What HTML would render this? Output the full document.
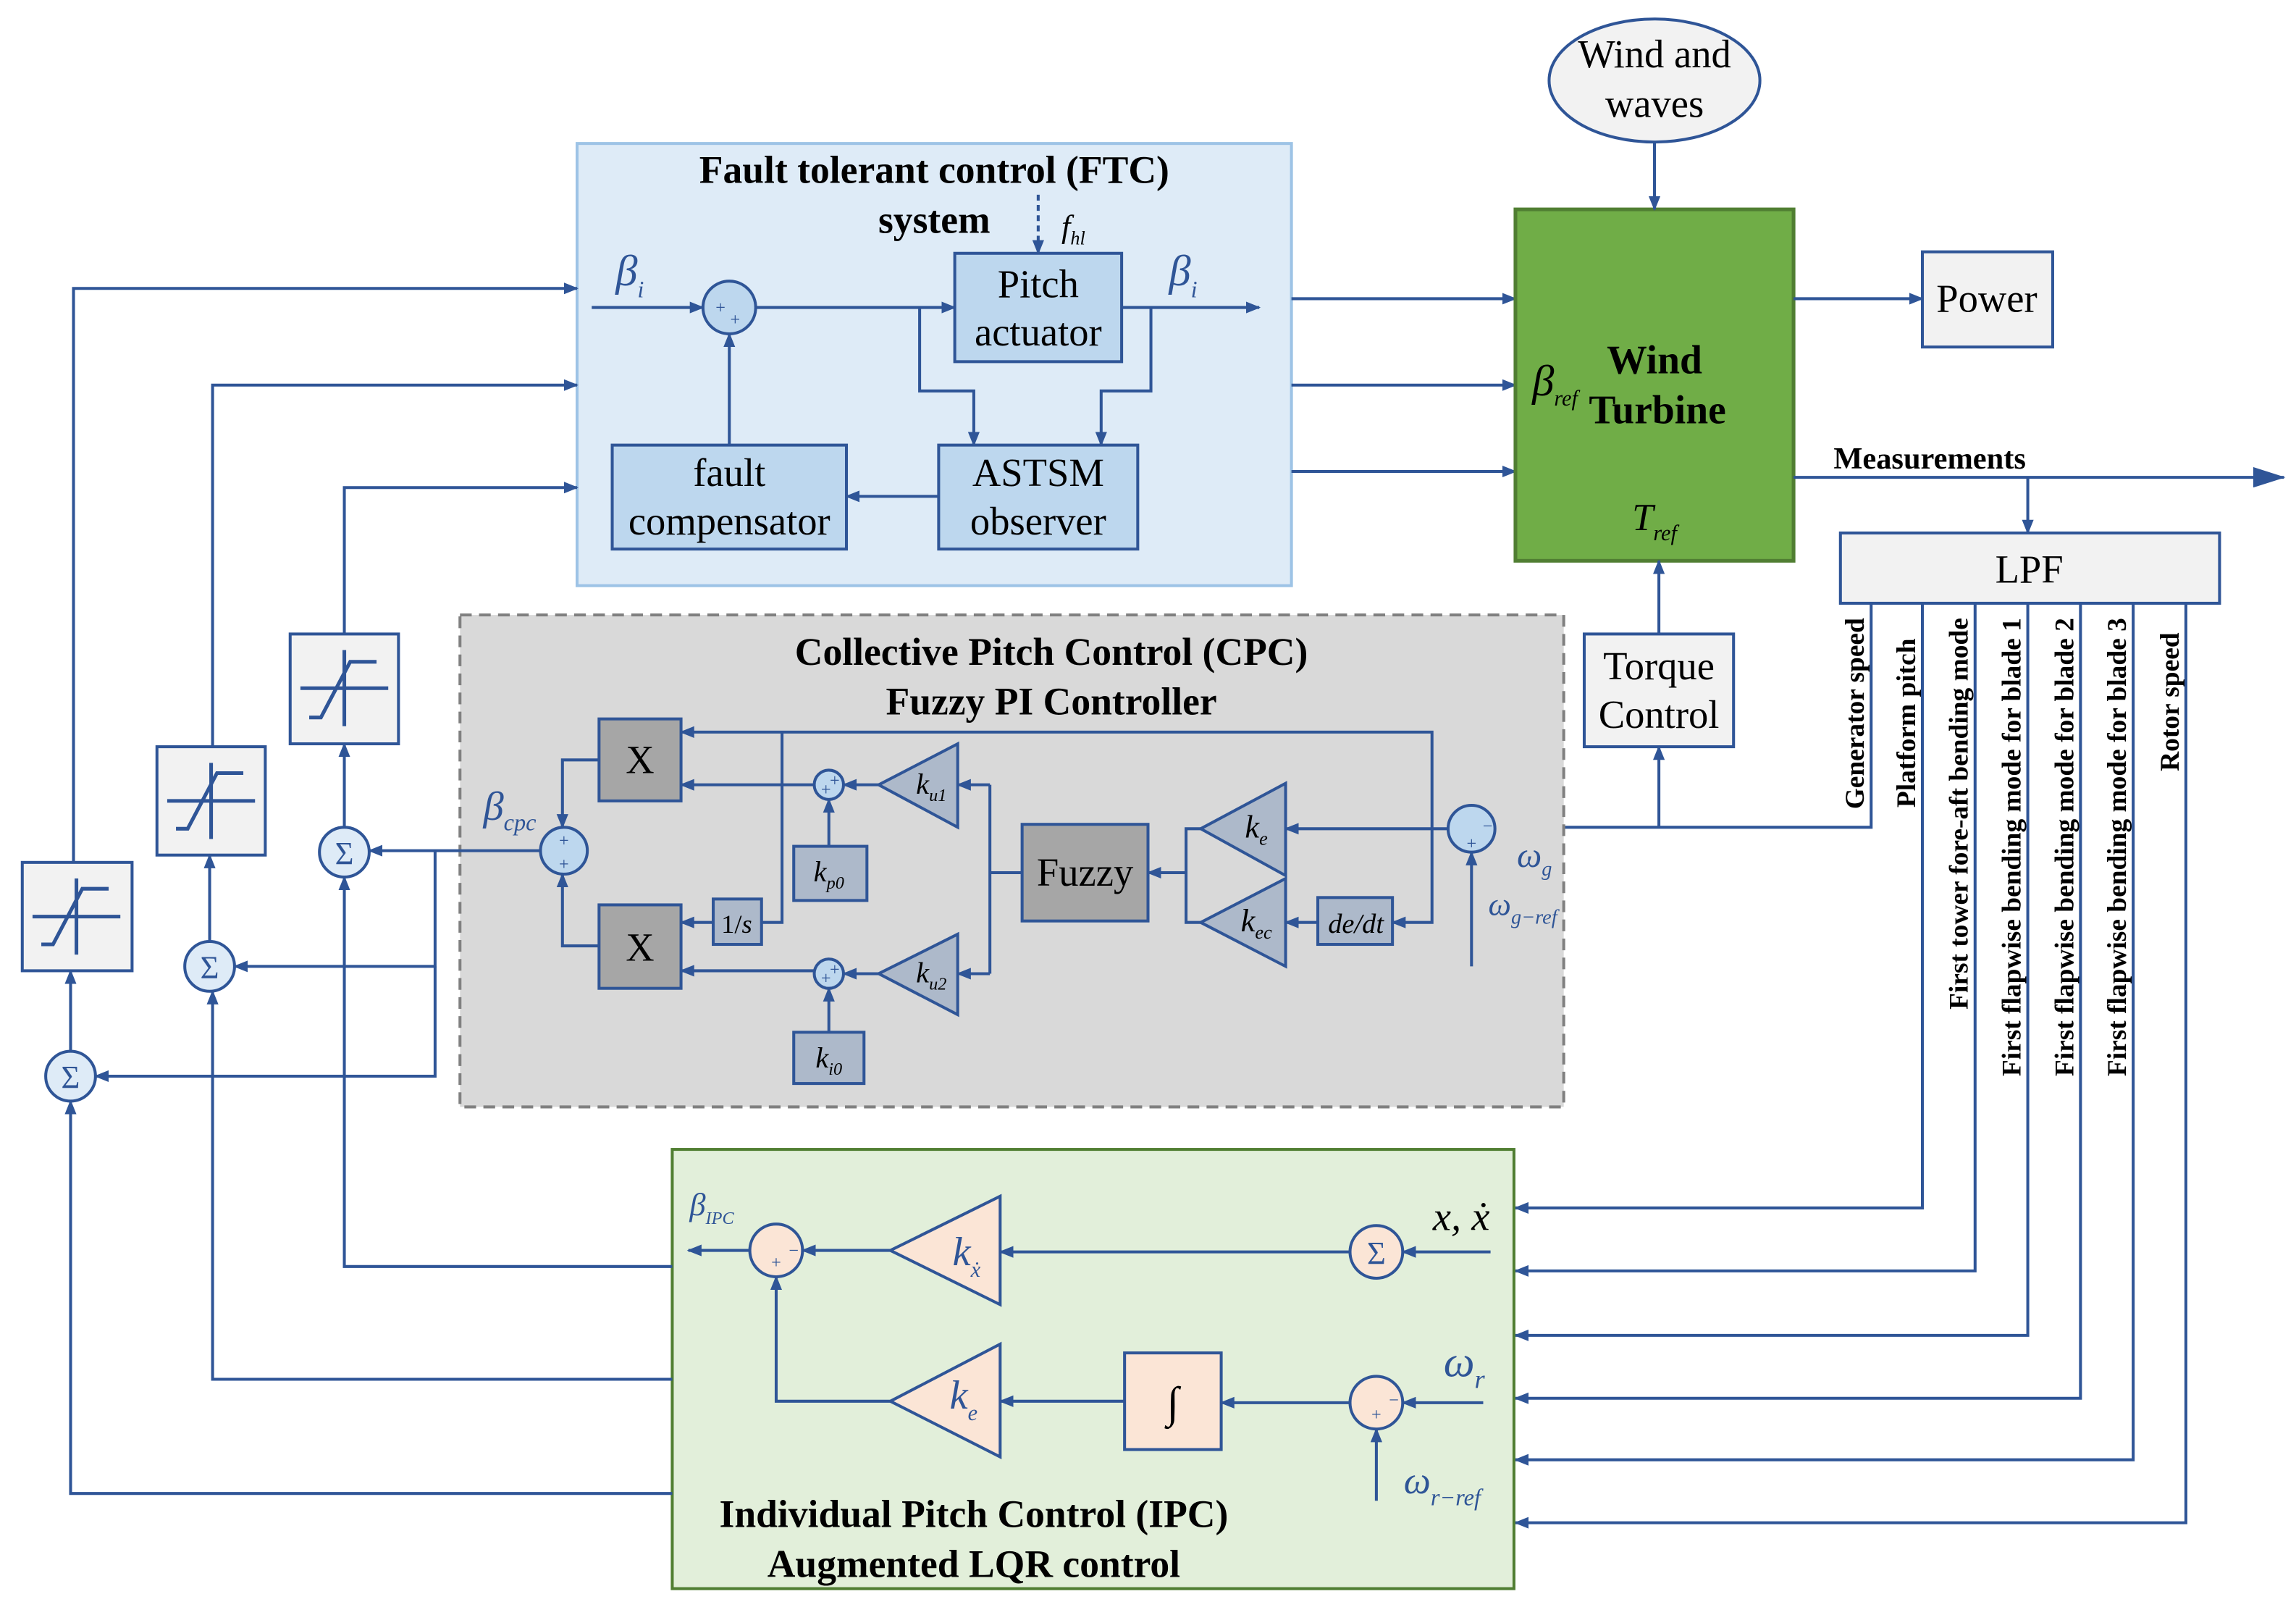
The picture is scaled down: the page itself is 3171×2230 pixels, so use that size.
<!DOCTYPE html>
<html><head><meta charset="utf-8"><style>
html,body{margin:0;padding:0;background:#fff;}
svg{display:block;}
text{font-family:"Liberation Serif",serif;}
</style></head><body>
<svg width="3171" height="2230" viewBox="0 0 1568 1103" xmlns="http://www.w3.org/2000/svg">
<defs>
<marker id="a" markerWidth="10" markerHeight="10" refX="9" refY="5" orient="auto" markerUnits="userSpaceOnUse"><path d="M0,1 L10,5 L0,9 Z" fill="#2f5597"/></marker>
<marker id="b" markerWidth="22" markerHeight="14" refX="21" refY="7" orient="auto" markerUnits="userSpaceOnUse"><path d="M0,0 L22,7 L0,14 Z" fill="#2f5597"/></marker>
</defs>
<rect width="1568" height="1103" fill="#fff"/>
<g stroke="#2f5597" stroke-width="2" fill="none">
<rect x="394" y="98" width="488" height="302" fill="#deebf7" stroke="#9dc3e6"/>
<rect x="652" y="173" width="114" height="74" fill="#bdd7ee"/>
<rect x="641" y="304" width="136" height="71" fill="#bdd7ee"/>
<rect x="418" y="304" width="160" height="71" fill="#bdd7ee"/>
<circle cx="498" cy="210" r="18" fill="#bdd7ee"/>
<line x1="404" y1="210" x2="480" y2="210" marker-end="url(#a)"/>
<line x1="516" y1="210" x2="652" y2="210" marker-end="url(#a)"/>
<line x1="766" y1="210" x2="860" y2="210" marker-end="url(#a)"/>
<polyline points="628,210 628,267 665,267 665,304" marker-end="url(#a)"/>
<polyline points="786,210 786,267 752,267 752,304" marker-end="url(#a)"/>
<line x1="641" y1="339" x2="578" y2="339" marker-end="url(#a)"/>
<line x1="498" y1="304" x2="498" y2="228" marker-end="url(#a)"/>
<line x1="709" y1="133" x2="709" y2="173" stroke-dasharray="4,3" marker-end="url(#a)"/>
<polyline points="50,589 50,197 394,197" marker-end="url(#a)"/>
<polyline points="145,510 145,263 394,263" marker-end="url(#a)"/>
<polyline points="235,433 235,333 394,333" marker-end="url(#a)"/>
<rect x="15" y="589" width="75" height="74" fill="#f2f2f2"/>
<rect x="107" y="510" width="74" height="74" fill="#f2f2f2"/>
<rect x="198" y="433" width="74" height="75" fill="#f2f2f2"/>
<g stroke-width="2.5">
<path d="M28,645 h8 l20,-38 h18 M52,600 v52 M22,626 h60"/>
<path d="M120,566 h8 l20,-38 h18 M144,521 v52 M114,547 h60"/>
<path d="M211,490 h8 l20,-38 h18 M235,444 v52 M205,470 h60"/>
</g>
<circle cx="48" cy="735" r="17" fill="#deebf7"/>
<circle cx="143" cy="660" r="17" fill="#deebf7"/>
<circle cx="235" cy="582" r="17" fill="#deebf7"/>
<line x1="48" y1="718" x2="48" y2="663" marker-end="url(#a)"/>
<line x1="143" y1="643" x2="143" y2="584" marker-end="url(#a)"/>
<line x1="235" y1="565" x2="235" y2="508" marker-end="url(#a)"/>
<line x1="882" y1="204" x2="1035" y2="204" marker-end="url(#a)"/>
<line x1="882" y1="263" x2="1035" y2="263" marker-end="url(#a)"/>
<line x1="882" y1="322" x2="1035" y2="322" marker-end="url(#a)"/>
<rect x="1035" y="143" width="190" height="240" fill="#70ad47" stroke="#507e32" stroke-width="2.5"/>
<ellipse cx="1130" cy="55" rx="72" ry="42" fill="#f2f2f2"/>
<line x1="1130" y1="97" x2="1130" y2="143" marker-end="url(#a)"/>
<rect x="1313" y="172" width="89" height="65" fill="#f2f2f2"/>
<line x1="1225" y1="204" x2="1313" y2="204" marker-end="url(#a)"/>
<line x1="1225" y1="326" x2="1560" y2="326" marker-end="url(#b)"/>
<line x1="1385" y1="326" x2="1385" y2="364" marker-end="url(#a)"/>
<rect x="1257" y="364" width="259" height="48" fill="#f2f2f2"/>
<rect x="1082" y="433" width="102" height="77" fill="#f2f2f2"/>
<line x1="1133" y1="433" x2="1133" y2="383" marker-end="url(#a)"/>
<line x1="1133" y1="565" x2="1133" y2="510" marker-end="url(#a)"/>
<polyline points="1278,412 1278,565 1021,565" marker-end="url(#a)"/>
<polyline points="1313,412 1313,825 1035,825" marker-end="url(#a)"/>
<polyline points="1349,412 1349,868 1035,868" marker-end="url(#a)"/>
<polyline points="1385,412 1385,912 1035,912" marker-end="url(#a)"/>
<polyline points="1421,412 1421,955 1035,955" marker-end="url(#a)"/>
<polyline points="1457,412 1457,997 1035,997" marker-end="url(#a)"/>
<polyline points="1493,412 1493,1040 1035,1040" marker-end="url(#a)"/>
<rect x="314" y="420" width="754" height="336" fill="#d9d9d9" stroke="#808080" stroke-dasharray="8,5"/>
<circle cx="1005" cy="566" r="16" fill="#bdd7ee"/>
<line x1="1005" y1="660" x2="1005" y2="582" marker-end="url(#a)"/>
<line x1="989" y1="566" x2="878" y2="566" marker-end="url(#a)"/>
<polyline points="978,566 978,500 465,500" marker-end="url(#a)"/>
<polyline points="978,566 978,630 951,630" marker-end="url(#a)"/>
<polygon points="820,566 878,535 878,598" fill="#adb9ca"/>
<polygon points="820,630 878,600 878,660" fill="#adb9ca"/>
<rect x="900" y="613" width="51" height="32" fill="#adb9ca"/>
<line x1="900" y1="630" x2="878" y2="630" marker-end="url(#a)"/>
<polyline points="820,566 810,566 810,630 820,630"/>
<line x1="810" y1="596" x2="784" y2="596" marker-end="url(#a)"/>
<rect x="698" y="563" width="86" height="66" fill="#a6a6a6"/>
<line x1="698" y1="596" x2="676" y2="596"/>
<line x1="676" y1="536" x2="676" y2="665"/>
<line x1="676" y1="536" x2="654" y2="536" marker-end="url(#a)"/>
<line x1="676" y1="665" x2="654" y2="665" marker-end="url(#a)"/>
<polygon points="600,536 654,508 654,565" fill="#adb9ca"/>
<polygon points="600,665 654,638 654,693" fill="#adb9ca"/>
<line x1="600" y1="536" x2="576" y2="536" marker-end="url(#a)"/>
<line x1="600" y1="665" x2="576" y2="665" marker-end="url(#a)"/>
<circle cx="566" cy="536" r="10" fill="#bdd7ee"/>
<circle cx="566" cy="665" r="10" fill="#bdd7ee"/>
<rect x="542" y="578" width="50" height="37" fill="#adb9ca"/>
<rect x="542" y="705" width="48" height="35" fill="#adb9ca"/>
<line x1="566" y1="578" x2="566" y2="546" marker-end="url(#a)"/>
<line x1="566" y1="705" x2="566" y2="675" marker-end="url(#a)"/>
<line x1="556" y1="536" x2="465" y2="536" marker-end="url(#a)"/>
<line x1="556" y1="663" x2="465" y2="663" marker-end="url(#a)"/>
<rect x="409" y="491" width="56" height="56" fill="#a6a6a6"/>
<rect x="409" y="618" width="56" height="57" fill="#a6a6a6"/>
<rect x="487" y="614" width="33" height="31" fill="#adb9ca"/>
<polyline points="534,500 534,630 520,630"/>
<line x1="487" y1="630" x2="465" y2="630" marker-end="url(#a)"/>
<polyline points="409,519 384,519 384,565" marker-end="url(#a)"/>
<polyline points="409,646 384,646 384,597" marker-end="url(#a)"/>
<circle cx="385" cy="581" r="16" fill="#bdd7ee"/>
<line x1="369" y1="581" x2="252" y2="581" marker-end="url(#a)"/>
<polyline points="297,581 297,660 160,660" marker-end="url(#a)"/>
<polyline points="297,660 297,735 65,735" marker-end="url(#a)"/>
<rect x="459" y="785" width="575" height="300" fill="#e2efda" stroke="#507e32"/>
<circle cx="530" cy="854" r="18" fill="#fbe5d6"/>
<line x1="512" y1="854" x2="470" y2="854" marker-end="url(#a)"/>
<polygon points="608,854 683,817 683,891" fill="#fbe5d6"/>
<line x1="922" y1="855" x2="683" y2="855" marker-end="url(#a)"/>
<line x1="608" y1="854" x2="548" y2="854" marker-end="url(#a)"/>
<circle cx="940" cy="855" r="18" fill="#fbe5d6"/>
<line x1="1018" y1="855" x2="958" y2="855" marker-end="url(#a)"/>
<circle cx="940" cy="958" r="18" fill="#fbe5d6"/>
<line x1="1013" y1="958" x2="958" y2="958" marker-end="url(#a)"/>
<line x1="940" y1="1025" x2="940" y2="976" marker-end="url(#a)"/>
<rect x="768" y="924" width="66" height="66" fill="#fbe5d6"/>
<line x1="922" y1="958" x2="834" y2="958" marker-end="url(#a)"/>
<line x1="768" y1="957" x2="683" y2="957" marker-end="url(#a)"/>
<polygon points="608,957 683,918 683,995" fill="#fbe5d6"/>
<polyline points="608,957 530,957 530,872" marker-end="url(#a)"/>
<polyline points="459,865 235,865 235,599" marker-end="url(#a)"/>
<polyline points="459,942 145,942 145,677" marker-end="url(#a)"/>
<polyline points="459,1020 48,1020 48,752" marker-end="url(#a)"/>
</g>
<g fill="#000" font-size="27" text-anchor="middle">
<text x="638" y="125" font-weight="bold" font-size="26.5">Fault tolerant control (FTC)</text>
<text x="638" y="159" font-weight="bold" font-size="26.5">system</text>
<text x="709" y="203">Pitch</text>
<text x="709" y="236">actuator</text>
<text x="709" y="332">ASTSM</text>
<text x="709" y="365">observer</text>
<text x="498" y="332">fault</text>
<text x="498" y="365">compensator</text>
<text x="1130" y="46">Wind and</text>
<text x="1130" y="80">waves</text>
<text x="1357" y="213">Power</text>
<text x="1386" y="398">LPF</text>
<text x="1133" y="464">Torque</text>
<text x="1133" y="497">Control</text>
<text x="1130" y="255" font-weight="bold" font-size="27.5">Wind</text>
<text x="1132" y="289" font-weight="bold" font-size="27.5">Turbine</text>
<text x="718" y="454" font-weight="bold" font-size="26.5">Collective Pitch Control (CPC)</text>
<text x="718" y="488" font-weight="bold" font-size="26.5">Fuzzy PI Controller</text>
<text x="665" y="1043" font-weight="bold" font-size="26.5">Individual Pitch Control (IPC)</text>
<text x="665" y="1077" font-weight="bold" font-size="26.5">Augmented LQR control</text>
<text x="437" y="528">X</text>
<text x="437" y="656">X</text>
<text x="741" y="605">Fuzzy</text>
<text x="1318" y="320" font-weight="bold" font-size="21">Measurements</text>
</g>
<g fill="#2f5597" font-style="italic" text-anchor="middle">
<text x="430" y="195" font-size="30">β<tspan font-size="16" dy="8">i</tspan></text>
<text x="808" y="195" font-size="30">β<tspan font-size="16" dy="8">i</tspan></text>
<text x="733" y="162" font-size="22" fill="#000">f<tspan font-size="13" dy="5">hl</tspan></text>
<text x="1062" y="270" font-size="30" fill="#000">β<tspan font-size="15" dy="7">ref</tspan></text>
<text x="1130" y="362" font-size="26" fill="#000">T<tspan font-size="15" dy="7">ref</tspan></text>
<text x="348" y="560" font-size="28">β<tspan font-size="16" dy="7">cpc</tspan></text>
<text x="1048" y="592" font-size="24">ω<tspan font-size="14" dy="6">g</tspan></text>
<text x="1040" y="625" font-size="22">ω<tspan font-size="14" dy="6">g−ref</tspan></text>
<text x="858" y="572" font-size="22" fill="#000">k<tspan font-size="13" dy="5">e</tspan></text>
<text x="858" y="636" font-size="22" fill="#000">k<tspan font-size="13" dy="5">ec</tspan></text>
<text x="926" y="637" font-size="19" fill="#000">de/dt</text>
<text x="636" y="542" font-size="20" fill="#000">k<tspan font-size="12" dy="5">u1</tspan></text>
<text x="636" y="671" font-size="20" fill="#000">k<tspan font-size="12" dy="5">u2</tspan></text>
<text x="566" y="602" font-size="20" fill="#000">k<tspan font-size="12" dy="5">p0</tspan></text>
<text x="566" y="729" font-size="20" fill="#000">k<tspan font-size="12" dy="5">i0</tspan></text>
<text x="503" y="637" font-size="18" fill="#000" font-style="normal">1/<tspan font-style="italic">s</tspan></text>
<text x="486" y="830" font-size="22">β<tspan font-size="12" dy="6">IPC</tspan></text>
<text x="998" y="840" font-size="28" fill="#000">x, ẋ</text>
<text x="1000" y="940" font-size="30">ω<tspan font-size="18" dy="8">r</tspan></text>
<text x="985" y="1020" font-size="26">ω<tspan font-size="16" dy="8">r−ref</tspan></text>
<text x="660" y="864" font-size="28">k<tspan font-size="15" dy="8">ẋ</tspan></text>
<text x="658" y="962" font-size="28">k<tspan font-size="15" dy="8">e</tspan></text>
<text x="801" y="968" font-size="30" font-style="normal" fill="#000">∫</text>
</g>
<g fill="#2f5597" font-size="22" text-anchor="middle">
<text x="48" y="743">Σ</text>
<text x="143" y="668">Σ</text>
<text x="235" y="590">Σ</text>
<text x="940" y="863">Σ</text>
</g>
<g fill="#2f5597" font-size="12" text-anchor="middle">
<text x="492" y="214">+</text><text x="502" y="222">+</text>
<text x="385" y="578">+</text><text x="385" y="594">+</text>
<text x="564" y="543">+</text><text x="570" y="537">+</text>
<text x="564" y="672">+</text><text x="570" y="666">+</text>
<text x="1016" y="568">−</text><text x="1005" y="580">+</text>
<text x="542" y="858">−</text><text x="530" y="866">+</text>
<text x="952" y="960">−</text><text x="940" y="970">+</text>
</g>
<g fill="#000" font-size="18.5" font-weight="bold" text-anchor="end">
<text transform="translate(1273,422) rotate(-90)">Generator speed</text>
<text transform="translate(1308,436) rotate(-90)">Platform pitch</text>
<text transform="translate(1344,422) rotate(-90)">First tower fore-aft bending mode</text>
<text transform="translate(1380,422) rotate(-90)">First flapwise bending mode for blade 1</text>
<text transform="translate(1416,422) rotate(-90)">First flapwise bending mode for blade 2</text>
<text transform="translate(1452,422) rotate(-90)">First flapwise bending mode for blade 3</text>
<text transform="translate(1488,432) rotate(-90)">Rotor speed</text>
</g>
</svg>
</body></html>
